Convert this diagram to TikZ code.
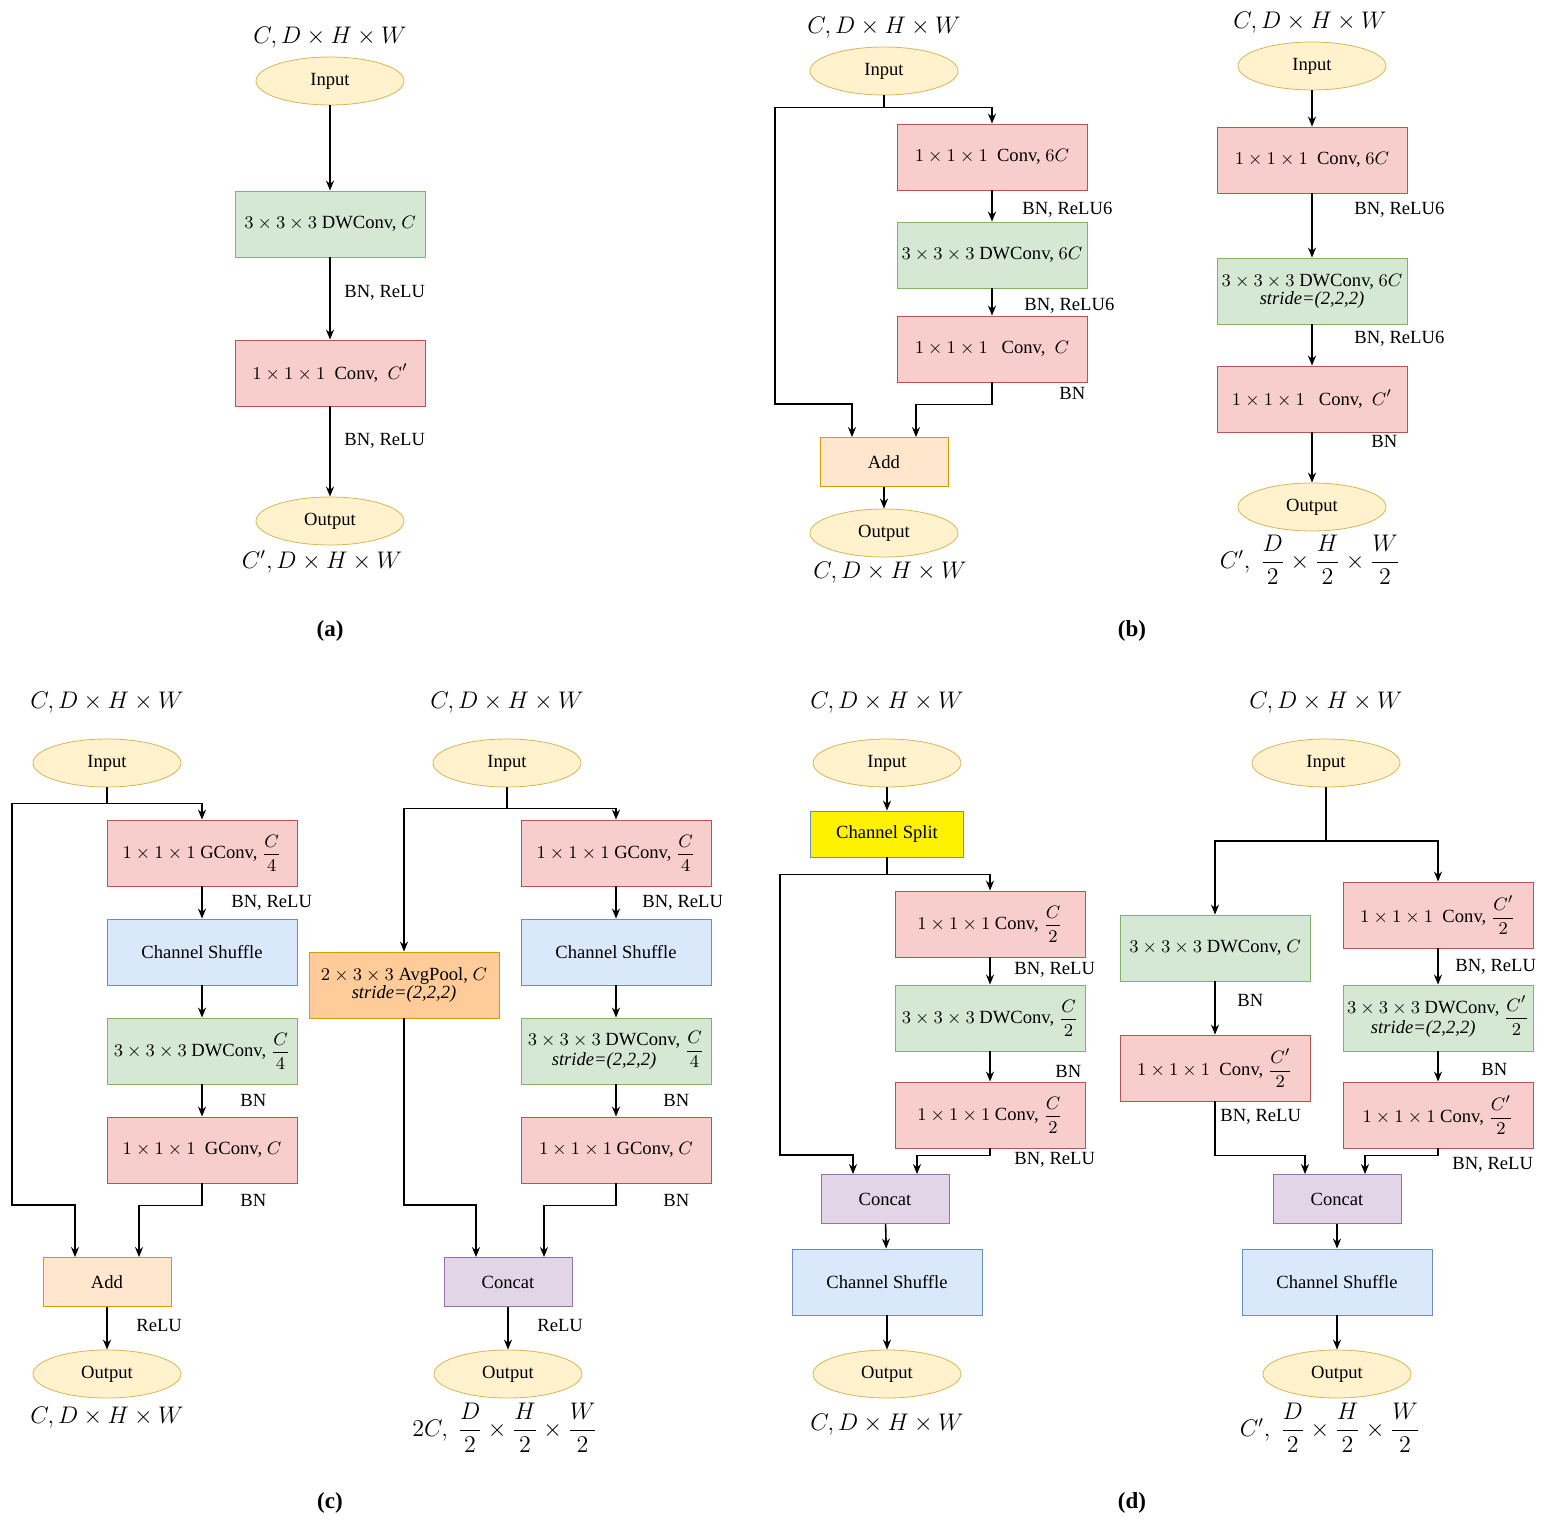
\documentclass[tikz,border=0pt]{standalone}
\usepackage{fontspec}
\setmainfont{Liberation Serif}
\usetikzlibrary{shapes.geometric,arrows.meta}
\definecolor{ylf}{HTML}{FFF2CC}\definecolor{yld}{HTML}{D6B656}
\definecolor{grf}{HTML}{D5E8D4}\definecolor{grd}{HTML}{82B366}
\definecolor{rdf}{HTML}{F8CECC}\definecolor{rdd}{HTML}{B85450}
\definecolor{blf}{HTML}{DAE8FC}\definecolor{bld}{HTML}{6C8EBF}
\definecolor{orf}{HTML}{FFE6CC}\definecolor{ord}{HTML}{D79B00}
\definecolor{puf}{HTML}{E1D5E7}\definecolor{pud}{HTML}{9673A6}
\definecolor{apf}{HTML}{FFCC99}
\newcommand\myfr[2]{\displaystyle\frac{#1}{#2}}
\newcommand\stridebox[1]{\begin{tabular}{@{}c@{}}$3\times3\times3$ DWConv,\\[-1pt] \textit{stride=(2,2,2)}\end{tabular}\ $\myfr{#1}{2}$}
\tikzset{
 every node/.style={font=\fontsize{9.3}{11}\selectfont},
 ell/.style={ellipse,draw=yld,fill=ylf,minimum width=74pt,minimum height=24pt,inner sep=0pt},
 box/.style={draw,minimum width=95pt,minimum height=33pt,inner sep=1pt,align=center},
 gr/.style={box,draw=grd,fill=grf},
 rd/.style={box,draw=rdd,fill=rdf},
 bl/.style={box,draw=bld,fill=blf},
 sm/.style={draw,minimum width=64pt,minimum height=24.5pt,inner sep=1pt},
 add/.style={sm,draw=ord,fill=orf},
 cat/.style={sm,draw=pud,fill=puf},
 lab/.style={anchor=west,inner sep=0pt},
 big/.style={font=\fontsize{11.5}{13}\selectfont},
 captn/.style={font=\bfseries\fontsize{11.5}{13}\selectfont},
 arr/.style={-{Stealth[length=5pt,width=4pt]},thick},
 ln/.style={thick},
}
\begin{document}
\begin{tikzpicture}[x=0.5pt,y=-0.5pt]
\useasboundingbox (0,0) rectangle (1554,1529);
% ---------- (a)
\node[big] (at) at (330,38) {$C, D\times H\times W$};
\node[ell] (ai) at (330,81) {Input};
\node[gr] (adw) at (330,224) {$3\times3\times3$ DWConv, $C$};
\node[rd] (acv) at (330,373) {$1\times1\times1$\ \ Conv,\ \ $C'$};
\node[ell] (ao) at (330,521) {Output};
\node[big] (ab) at (322,562) {$C', D\times H\times W$};
\draw[arr] (ai) -- (adw);
\draw[arr] (adw) -- (acv);
\draw[arr] (acv) -- (ao);
\node[lab] at (344,293) {BN, ReLU};
\node[lab] at (344,441) {BN, ReLU};
\node[captn] at (330,631) {(a)};
% ---------- (b) left
\node[big] (bt) at (884,28) {$C, D\times H\times W$};
\node[ell] (bi) at (884,71) {Input};
\node[rd] (bc1) at (992,157) {$1\times1\times1$\ \ Conv,\ $6C$};
\node[gr] (bdw) at (992,255) {$3\times3\times3$ DWConv, $6C$};
\node[rd] (bc2) at (992,349) {$1\times1\times1$\ \ \ Conv,\ \ $C$};
\node[add] (badd) at (884,462) {Add};
\node[ell] (bo) at (884,533) {Output};
\node[big] (bb) at (890,573) {$C, D\times H\times W$};
\draw[arr] (bi.south) -- ++(0,12) -| (bc1.north);
\draw[arr] (bi.south) -- ++(0,12) -| (775,404) -| ([xshift=-16pt]badd.north);
\draw[arr] (bc1) -- (bdw);
\draw[arr] (bdw) -- (bc2);
\draw[arr] (bc2.south) -- ++(0,22) -| ([xshift=16pt]badd.north);
\draw[arr] (badd) -- (bo);
\node[lab] at (1022,210) {BN, ReLU6};
\node[lab] at (1024,306) {BN, ReLU6};
\node[lab] at (1059,393) {BN};
% ---------- (b) right
\node[big] (b2t) at (1310,23) {$C, D\times H\times W$};
\node[ell] (b2i) at (1312,66) {Input};
\node[rd] (b2c1) at (1312,160) {$1\times1\times1$\ \ Conv,\ $6C$};
\node[gr] (b2dw) at (1312,291) {$3\times3\times3$ DWConv, $6C$\\[-2pt] \textit{stride=(2,2,2)}};
\node[rd] (b2c2) at (1312,399) {$1\times1\times1$\ \ \ Conv,\ \ $C'$};
\node[ell] (b2o) at (1312,507) {Output};
\node[big] (b2b) at (1310,560) {$C',\ \myfr{D}{2}\times\myfr{H}{2}\times\myfr{W}{2}$};
\draw[arr] (b2i) -- (b2c1);
\draw[arr] (b2c1) -- (b2dw);
\draw[arr] (b2dw) -- (b2c2);
\draw[arr] (b2c2) -- (b2o);
\node[lab] at (1354,210) {BN, ReLU6};
\node[lab] at (1354,339) {BN, ReLU6};
\node[lab] at (1371,441) {BN};
\node[captn] at (1132,631) {(b)};
% ---------- (c) left
\node[big] (ct) at (107,703) {$C, D\times H\times W$};
\node[ell] (ci) at (107,763) {Input};
\node[rd] (cg1) at (202,853) {$1\times1\times1$ GConv, $\myfr{C}{4}$};
\node[bl] (csh) at (202,952) {Channel Shuffle};
\node[gr] (cdw) at (202,1051) {$3\times3\times3$ DWConv, $\myfr{C}{4}$};
\node[rd] (cg2) at (202,1150) {$1\times1\times1$\ \ GConv, $C$};
\node[add] (cadd) at (107,1282) {Add};
\node[ell] (co) at (107,1374) {Output};
\node[big] (cb) at (107,1418) {$C, D\times H\times W$};
\draw[arr] (ci.south) -- ++(0,16) -| (cg1.north);
\draw[arr] (ci.south) -- ++(0,16) -| (12,1205) -| ([xshift=-16pt]cadd.north);
\draw[arr] (cg1) -- (csh);
\draw[arr] (csh) -- (cdw);
\draw[arr] (cdw) -- (cg2);
\draw[arr] (cg2.south) -- ++(0,22) -| ([xshift=16pt]cadd.north);
\draw[arr] (cadd) -- (co);
\node[lab] at (231,903) {BN, ReLU};
\node[lab] at (240,1100) {BN};
\node[lab] at (240,1200) {BN};
\node[lab] at (136,1325) {ReLU};
% ---------- (c) right
\node[big] (c2t) at (507,703) {$C, D\times H\times W$};
\node[ell] (c2i) at (507,763) {Input};
\node[rd] (c2g1) at (616,853) {$1\times1\times1$ GConv, $\myfr{C}{4}$};
\node[bl] (c2sh) at (616,952) {Channel Shuffle};
\node[gr] (c2dw) at (616,1051) {\begin{tabular}{@{}c@{}}$3\times3\times3$ DWConv,\\[-1pt] \textit{stride=(2,2,2)}\end{tabular}\ $\myfr{C}{4}$};
\node[rd] (c2g2) at (616,1150) {$1\times1\times1$ GConv,\ $C$};
\node[box,draw=ord,fill=apf] (c2ap) at (404,985) {$2\times3\times3$ AvgPool, $C$\\[-2pt] \textit{stride=(2,2,2)}};
\node[cat] (c2cat) at (508,1282) {Concat};
\node[ell] (c2o) at (508,1374) {Output};
\node[big] (c2b) at (505,1428) {$2C,\ \myfr{D}{2}\times\myfr{H}{2}\times\myfr{W}{2}$};
\draw[arr] (c2i.south) -- ++(0,21) -| (c2g1.north);
\draw[arr] (c2i.south) -- ++(0,21) -| (c2ap.north);
\draw[arr] (c2g1) -- (c2sh);
\draw[arr] (c2sh) -- (c2dw);
\draw[arr] (c2dw) -- (c2g2);
\draw[arr] (c2g2.south) -- ++(0,22) -| ([xshift=18pt]c2cat.north);
\draw[arr] (c2ap.south) -- (404,1205) -| ([xshift=-16pt]c2cat.north);
\draw[arr] (c2cat) -- (c2o);
\node[lab] at (642,903) {BN, ReLU};
\node[lab] at (663,1100) {BN};
\node[lab] at (663,1200) {BN};
\node[lab] at (537,1325) {ReLU};
\node[captn] at (330,1503) {(c)};
% ---------- (d) left
\node[big] (dt) at (887,703) {$C, D\times H\times W$};
\node[ell] (di) at (887,763) {Input};
\node[draw=bld,fill=yellow,minimum width=76.5pt,minimum height=23pt] (dsp) at (887,834) {Channel Split};
\node[rd] (dc1) at (990,924) {$1\times1\times1$ Conv, $\myfr{C}{2}$};
\node[gr] (ddw) at (990,1018) {$3\times3\times3$ DWConv, $\myfr{C}{2}$};
\node[rd] (dc2) at (990,1115) {$1\times1\times1$ Conv, $\myfr{C}{2}$};
\node[cat] (dcat) at (885,1199) {Concat};
\node[bl] (dsh) at (887,1282) {Channel Shuffle};
\node[ell] (do) at (887,1374) {Output};
\node[big] (db) at (887,1425) {$C, D\times H\times W$};
\draw[arr] (di) -- (dsp);
\draw[arr] (dsp.south) -- ++(0,17) -| (dc1.north);
\draw[arr] (dsp.south) -- ++(0,17) -| (780,1155) -| ([xshift=-16pt]dcat.north);
\draw[arr] (dc1) -- (ddw);
\draw[arr] (ddw) -- (dc2);
\draw[arr] (dc2.south) -- ++(0,7) -| ([xshift=16pt]dcat.north);
\draw[arr] (dcat) -- (dsh);
\draw[arr] (dsh) -- (do);
\node[lab] at (1014,970) {BN, ReLU};
\node[lab] at (1055,1071) {BN};
\node[lab] at (1014,1160) {BN, ReLU};
% ---------- (d) right
\node[big] (d2t) at (1326,703) {$C, D\times H\times W$};
\node[ell] (d2i) at (1326,763) {Input};
\node[gr] (d2dwl) at (1215,948) {$3\times3\times3$ DWConv, $C$};
\node[rd] (d2cl) at (1215,1068) {$1\times1\times1$\ \ Conv, $\myfr{C'}{2}$};
\node[rd] (d2c1) at (1438,915) {$1\times1\times1$\ \ Conv, $\myfr{C'}{2}$};
\node[gr] (d2dw) at (1438,1018) {\stridebox{C'}};
\node[rd] (d2c2) at (1438,1115) {$1\times1\times1$ Conv, $\myfr{C'}{2}$};
\node[cat] (d2cat) at (1337,1199) {Concat};
\node[bl] (d2sh) at (1337,1282) {Channel Shuffle};
\node[ell] (d2o) at (1337,1374) {Output};
\node[big] (d2b) at (1330,1428) {$C',\ \myfr{D}{2}\times\myfr{H}{2}\times\myfr{W}{2}$};
\draw[ln] (d2i.south) -- (1326,841);
\draw[arr] (1326,841) -| (d2dwl.north);
\draw[arr] (1326,841) -| (d2c1.north);
\draw[arr] (d2dwl) -- (d2cl);
\draw[arr] (d2cl.south) -- ++(0,54) -| ([xshift=-16pt]d2cat.north);
\draw[arr] (d2c1) -- (d2dw);
\draw[arr] (d2dw) -- (d2c2);
\draw[arr] (d2c2.south) -- ++(0,7) -| ([xshift=14pt]d2cat.north);
\draw[arr] (d2cat) -- (d2sh);
\draw[arr] (d2sh) -- (d2o);
\node[lab] at (1237,1000) {BN};
\node[lab] at (1220,1117) {BN, ReLU};
\node[lab] at (1455,967) {BN, ReLU};
\node[lab] at (1481,1069) {BN};
\node[lab] at (1452,1165) {BN, ReLU};
\node[captn] at (1132,1503) {(d)};
\end{tikzpicture}
\end{document}
